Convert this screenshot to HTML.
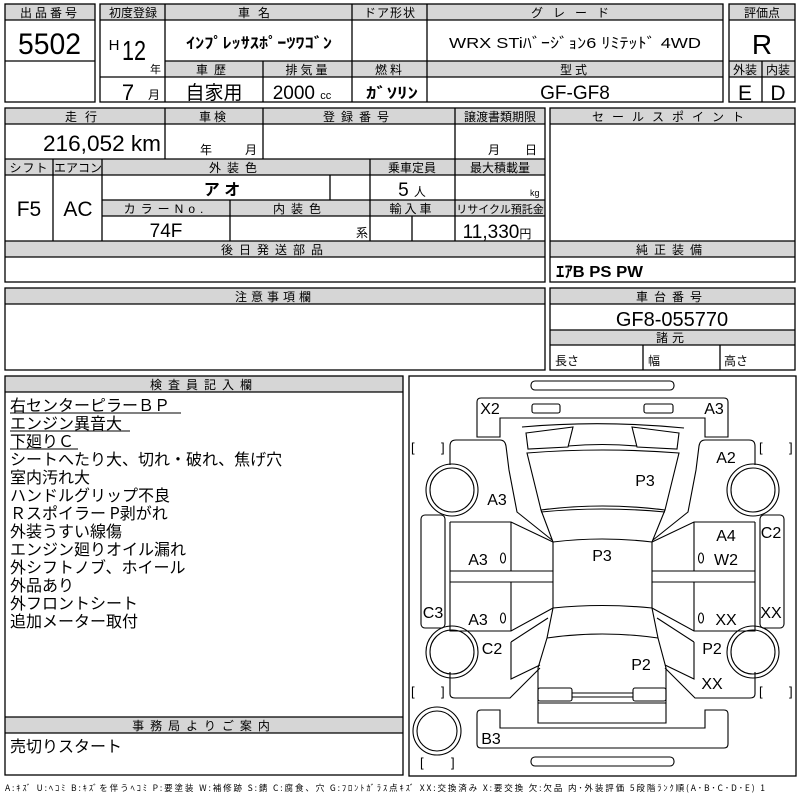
<!DOCTYPE html>
<html><head><meta charset="utf-8"><style>
html,body{margin:0;padding:0;background:#fff;width:800px;height:800px;overflow:hidden}
svg{display:block}
text{font-family:"Liberation Sans","Noto Sans CJK JP",sans-serif;fill:#000}
.h{font-size:12px;text-anchor:middle;letter-spacing:3px}
.v{font-size:19px;text-anchor:middle}
.n{font-family:"Liberation Sans Narrow","Liberation Sans",sans-serif;font-size:17px;text-anchor:middle}
.d{font-family:"Liberation Sans Narrow","Liberation Sans",sans-serif;font-size:16px;text-anchor:middle}
.t{font-size:16px;font-family:"Noto Sans CJK JP",sans-serif}
</style></head><body>
<svg width="800" height="800" viewBox="0 0 800 800">
<g fill="#d6d6d6" stroke="none">
<rect x="5" y="4" width="90" height="16"/>
<rect x="100" y="4" width="623" height="16"/>
<rect x="165" y="61" width="558" height="16"/>
<rect x="729" y="4" width="66" height="16"/>
<rect x="729" y="61" width="66" height="16"/>
<rect x="5" y="108" width="540" height="16"/>
<rect x="5" y="159" width="540" height="16"/>
<rect x="102" y="200" width="443" height="16"/>
<rect x="5" y="241" width="540" height="16"/>
<rect x="550" y="108" width="245" height="16"/>
<rect x="550" y="241" width="245" height="16"/>
<rect x="5" y="288" width="540" height="16"/>
<rect x="550" y="288" width="245" height="16"/>
<rect x="550" y="330" width="245" height="15"/>
<rect x="5" y="376" width="398" height="16"/>
<rect x="5" y="717" width="398" height="16"/>
</g>
<g fill="none" stroke="#000" stroke-width="1.3">
<rect x="5" y="4" width="90" height="98"/>
<line x1="5" y1="20" x2="95" y2="20"/><line x1="5" y1="61" x2="95" y2="61"/>
<rect x="100" y="4" width="623" height="98"/>
<line x1="100" y1="20" x2="723" y2="20"/>
<line x1="165" y1="4" x2="165" y2="102"/><line x1="352" y1="4" x2="352" y2="102"/><line x1="427" y1="4" x2="427" y2="102"/>
<line x1="100" y1="77" x2="723" y2="77"/><line x1="165" y1="61" x2="723" y2="61"/>
<line x1="263" y1="61" x2="263" y2="102"/>
<rect x="729" y="4" width="66" height="98"/>
<line x1="729" y1="20" x2="795" y2="20"/><line x1="729" y1="61" x2="795" y2="61"/><line x1="729" y1="77" x2="795" y2="77"/><line x1="762" y1="61" x2="762" y2="102"/>
<rect x="5" y="108" width="540" height="174"/>
<line x1="5" y1="124" x2="545" y2="124"/><line x1="5" y1="159" x2="545" y2="159"/><line x1="5" y1="175" x2="545" y2="175"/>
<line x1="102" y1="200" x2="545" y2="200"/><line x1="102" y1="216" x2="545" y2="216"/>
<line x1="5" y1="241" x2="545" y2="241"/><line x1="5" y1="257" x2="545" y2="257"/>
<line x1="165" y1="108" x2="165" y2="159"/><line x1="263" y1="108" x2="263" y2="159"/><line x1="455" y1="108" x2="455" y2="241"/>
<line x1="53" y1="159" x2="53" y2="241"/><line x1="102" y1="159" x2="102" y2="241"/><line x1="370" y1="159" x2="370" y2="241"/>
<line x1="330" y1="175" x2="330" y2="200"/><line x1="230" y1="200" x2="230" y2="241"/><line x1="412" y1="216" x2="412" y2="241"/>
<rect x="550" y="108" width="245" height="174"/>
<line x1="550" y1="124" x2="795" y2="124"/><line x1="550" y1="241" x2="795" y2="241"/><line x1="550" y1="257" x2="795" y2="257"/>
<rect x="5" y="288" width="540" height="82"/><line x1="5" y1="304" x2="545" y2="304"/>
<rect x="550" y="288" width="245" height="82"/>
<line x1="550" y1="304" x2="795" y2="304"/><line x1="550" y1="330" x2="795" y2="330"/><line x1="550" y1="345" x2="795" y2="345"/>
<line x1="643" y1="345" x2="643" y2="370"/><line x1="720" y1="345" x2="720" y2="370"/>
<rect x="5" y="376" width="398" height="399"/>
<line x1="5" y1="392" x2="403" y2="392"/><line x1="5" y1="717" x2="403" y2="717"/><line x1="5" y1="733" x2="403" y2="733"/>
<rect x="409" y="376" width="387" height="400"/>
</g>
<!-- headers -->
<text class="h" x="50" y="17">出品番号</text>
<text class="h" x="133" y="17" style="letter-spacing:0">初度登録</text>
<text class="h" x="258" y="17" style="letter-spacing:8px">車名</text>
<text class="h" x="390" y="17" style="letter-spacing:1px">ドア形状</text>
<text class="h" x="575" y="17" style="letter-spacing:10px">グレード</text>
<text class="h" x="762" y="17" style="letter-spacing:0">評価点</text>
<text class="h" x="214" y="74" style="letter-spacing:6px">車歴</text>
<text class="h" x="308" y="74">排気量</text>
<text class="h" x="390" y="74">燃料</text>
<text class="h" x="575" y="74">型式</text>
<text class="h" x="745" y="74" style="letter-spacing:0">外装</text>
<text class="h" x="778" y="74" style="letter-spacing:0">内装</text>
<text class="h" x="85" y="121" style="letter-spacing:8px">走行</text>
<text class="h" x="214" y="121">車検</text>
<text class="h" x="359" y="121" style="letter-spacing:6px">登録番号</text>
<text class="h" x="500" y="121" style="letter-spacing:0">譲渡書類期限</text>
<text class="h" x="29" y="172" style="letter-spacing:1px">シフト</text>
<text class="h" x="78" y="172" style="letter-spacing:0">エアコン</text>
<text class="h" x="236" y="172" style="letter-spacing:6px">外装色</text>
<text class="h" x="412" y="172" style="letter-spacing:0">乗車定員</text>
<text class="h" x="500" y="172" style="letter-spacing:0">最大積載量</text>
<text class="h" x="166" y="213" style="letter-spacing:5px">カラーNo.</text>
<text class="h" x="300" y="213" style="letter-spacing:6px">内装色</text>
<text class="h" x="412" y="213">輸入車</text>
<text class="h" x="500" y="213" style="letter-spacing:0;font-size:11px">リサイクル預託金</text>
<text class="h" x="275" y="254" style="letter-spacing:6px">後日発送部品</text>
<text class="h" x="672" y="121" style="letter-spacing:8px">セールスポイント</text>
<text class="h" x="672" y="254" style="letter-spacing:6px">純正装備</text>
<text class="h" x="275" y="301" style="letter-spacing:4px">注意事項欄</text>
<text class="h" x="672" y="301" style="letter-spacing:6px">車台番号</text>
<text class="h" x="672" y="342" style="letter-spacing:4px">諸元</text>
<text class="h" x="204" y="389" style="letter-spacing:6px">検査員記入欄</text>
<text class="h" x="204" y="730" style="letter-spacing:6px">事務局よりご案内</text>
<!-- values -->
<text x="18" y="54" style="font-size:30px" textLength="63" lengthAdjust="spacingAndGlyphs">5502</text>
<text class="n" x="114" y="50" style="font-size:15px">H</text>
<text x="122" y="60" style="font-size:28px" textLength="24" lengthAdjust="spacingAndGlyphs">12</text>
<text x="150" y="73" style="font-size:11px">年</text>
<text class="n" x="128" y="100" style="font-size:22px">7</text>
<text x="148" y="99" style="font-size:12px">月</text>
<text x="186" y="48" style="font-size:15px;font-weight:bold" textLength="146" lengthAdjust="spacingAndGlyphs">ｲﾝﾌﾟﾚｯｻｽﾎﾟｰﾂﾜｺﾞﾝ</text>
<text x="449" y="48" style="font-size:15px" textLength="252" lengthAdjust="spacingAndGlyphs">WRX STiﾊﾞｰｼﾞｮﾝ6 ﾘﾐﾃｯﾄﾞ 4WD</text>
<text class="v" x="762" y="54" style="font-size:28px">R</text>
<text class="v" x="214" y="99" style="font-size:19px">自家用</text>
<text class="n" x="302" y="99" style="font-size:19px">2000 <tspan style="font-size:11px">cc</tspan></text>
<text x="366" y="98" style="font-size:15px;font-weight:bold" textLength="52" lengthAdjust="spacingAndGlyphs">ｶﾞｿﾘﾝ</text>
<text class="n" x="575" y="99" style="font-size:19px">GF-GF8</text>
<text class="n" x="745" y="100" style="font-size:21px">E</text>
<text class="n" x="778" y="100" style="font-size:21px">D</text>
<text x="43" y="151" style="font-size:22px" textLength="118" lengthAdjust="spacingAndGlyphs">216,052 km</text>
<text x="200" y="154" style="font-size:12px">年</text><text x="245" y="154" style="font-size:12px">月</text>
<text x="488" y="154" style="font-size:12px">月</text><text x="525" y="154" style="font-size:12px">日</text>
<text class="v" x="222" y="195" style="font-size:16px;font-weight:bold">ア オ</text>
<text class="n" x="412" y="196" style="font-size:19px">5 <tspan style="font-size:12px">人</tspan></text>
<text x="530" y="196" style="font-size:9px">kg</text>
<text class="n" x="29" y="216" style="font-size:21px">F5</text>
<text class="n" x="78" y="216" style="font-size:21px">AC</text>
<text class="n" x="166" y="237" style="font-size:19px">74F</text>
<text x="356" y="237" style="font-size:12px">系</text>
<text class="n" x="497" y="238" style="font-size:19px">11,330<tspan style="font-size:12px">円</tspan></text>
<text x="556" y="277" style="font-size:16px;font-weight:bold" textLength="87" lengthAdjust="spacingAndGlyphs">ｴｱB PS PW</text>
<text class="n" x="672" y="326" style="font-size:20px">GF8-055770</text>
<text x="555" y="365" style="font-size:12px">長さ</text>
<text x="648" y="365" style="font-size:12px">幅</text>
<text x="724" y="365" style="font-size:12px">高さ</text>
<g class="t">
<text class="t" x="10" y="411">右センターピラーＢＰ</text>
<text class="t" x="10" y="429">エンジン異音大</text>
<text class="t" x="10" y="447">下廻りＣ</text>
<text class="t" x="10" y="465">シートへたり大、切れ・破れ、焦げ穴</text>
<text class="t" x="10" y="483">室内汚れ大</text>
<text class="t" x="10" y="501">ハンドルグリップ不良</text>
<text class="t" x="10" y="519">Ｒスポイラー P剥がれ</text>
<text class="t" x="10" y="537">外装うすい線傷</text>
<text class="t" x="10" y="555">エンジン廻りオイル漏れ</text>
<text class="t" x="10" y="573">外シフトノブ、ホイール</text>
<text class="t" x="10" y="591">外品あり</text>
<text class="t" x="10" y="609">外フロントシート</text>
<text class="t" x="10" y="627">追加メーター取付</text>
<text class="t" x="10" y="752">売切りスタート</text>
</g>
<line x1="10" y1="413" x2="181" y2="413" stroke="#000"/>
<line x1="10" y1="431" x2="130" y2="431" stroke="#000"/>
<line x1="10" y1="449" x2="78" y2="449" stroke="#000"/>
<text x="5" y="791" style="font-size:8.5px;font-family:'Noto Sans CJK JP',sans-serif" textLength="760">A:ｷｽﾞ U:ﾍｺﾐ B:ｷｽﾞを伴うﾍｺﾐ P:要塗装 W:補修跡 S:錆 C:腐食、穴 G:ﾌﾛﾝﾄｶﾞﾗｽ点ｷｽﾞ XX:交換済み X:要交換 欠:欠品 内･外装評価 5段階ﾗﾝｸ順(A･B･C･D･E) 1</text>
<!-- car diagram -->
<g fill="none" stroke="#000" stroke-width="1.1">
<rect x="531" y="381" width="143" height="9" rx="4"/>
<rect x="531" y="757" width="143" height="9" rx="4"/>
<path d="M477,437 L477,402 Q477,398 481,398 L724,398 Q728,398 728,402 L728,437 L705,437 L705,418 L500,418 L500,437 Z"/>
<rect x="532" y="404" width="28" height="9" rx="2"/><rect x="644" y="404" width="29" height="9" rx="2"/>
<path d="M477,714 Q477,710 481,710 L500,710 L500,728 L705,728 L705,710 L724,710 Q728,710 728,714 L728,744 Q728,748 724,748 L481,748 Q477,748 477,744 Z"/>
<circle cx="452" cy="490" r="26"/><circle cx="452" cy="490" r="22"/>
<circle cx="753" cy="490" r="26"/><circle cx="753" cy="490" r="22"/>
<circle cx="452" cy="652" r="26"/><circle cx="452" cy="652" r="22"/>
<circle cx="753" cy="652" r="26"/><circle cx="753" cy="652" r="22"/>
<circle cx="437" cy="731" r="24"/><circle cx="437" cy="731" r="20"/>
<rect x="421" y="515" width="24" height="113" rx="4"/>
<rect x="760" y="515" width="24" height="113" rx="4"/>
<path d="M450,465 L450,446 Q450,440 456,440 L500,440 Q505,440 506,446 L509,470 L517,512 L552,540"/>
<path d="M755,465 L755,446 Q755,440 749,440 L705,440 Q700,440 699,446 L696,470 L688,512 L653,540"/>
<path d="M450,522 L511,522 L553,542 M450,522 L450,631 L511,631 L553,608 M450,571 L553,571 M450,582 L553,582 M511,522 L511,571 M511,582 L511,631"/>
<path d="M755,522 L694,522 L652,542 M755,522 L755,631 L694,631 L652,608 M755,571 L652,571 M755,582 L652,582 M694,522 L694,571 M694,582 L694,631"/>
<path d="M511,642 L548,618 M511,642 L511,679 L540,665"/>
<path d="M694,642 L657,618 M694,642 L694,679 L665,665"/>
<path d="M450,672 L450,694 Q450,698 455,698 L510,698 L540,668"/>
<path d="M755,672 L755,694 Q755,698 750,698 L695,698 L665,668"/>
<path d="M522,427 Q602,420 684,428"/>
<path d="M526,433 L573,427 L568,447 L528,449 Z M679,433 L632,427 L637,447 L677,449 Z"/>
<path d="M568,446 Q602,443 637,446"/>
<path d="M527,453 Q602,447 679,453 L665,510 Q602,502 541,510 Z"/>
<path d="M541,512 Q602,506 665,512"/>
<path d="M541,510 L553,542 Q602,536 652,542 L665,510"/>
<path d="M553,542 L553,608 Q602,603 652,608 L652,542"/>
<path d="M553,608 L547,638 L538,668 L538,723 L666,723 L666,668 L658,638 L652,608"/>
<path d="M547,638 Q602,630 658,638"/>
<rect x="538" y="688" width="34" height="13" rx="2"/><rect x="633" y="688" width="33" height="13" rx="2"/>
<path d="M572,693 L633,693 M572,697 L633,697"/>
<line x1="538" y1="703" x2="666" y2="703"/>
<ellipse cx="503" cy="558" rx="2.5" ry="5"/><ellipse cx="503" cy="618" rx="2.5" ry="5"/>
<ellipse cx="701" cy="558" rx="2.5" ry="5"/><ellipse cx="701" cy="618" rx="2.5" ry="5"/>
</g>
<g style="font-size:13px;font-family:'Liberation Mono',monospace">
<text x="411" y="452">[</text><text x="441" y="452">]</text>
<text x="759" y="452">[</text><text x="789" y="452">]</text>
<text x="411" y="696">[</text><text x="441" y="696">]</text>
<text x="759" y="696">[</text><text x="789" y="696">]</text>
<text x="420" y="767">[</text><text x="451" y="767">]</text>
</g>
<g class="d">
<text x="490" y="414">X2</text><text x="714" y="414">A3</text>
<text x="726" y="463">A2</text><text x="645" y="486">P3</text>
<text x="497" y="505">A3</text><text x="602" y="561">P3</text>
<text x="478" y="565">A3</text><text x="726" y="541">A4</text>
<text x="771" y="538">C2</text><text x="726" y="565">W2</text>
<text x="433" y="618">C3</text><text x="478" y="625">A3</text>
<text x="726" y="625">XX</text><text x="771" y="618">XX</text>
<text x="492" y="654">C2</text><text x="712" y="654">P2</text>
<text x="641" y="670">P2</text><text x="712" y="689">XX</text>
<text x="491" y="744">B3</text>
</g>
</svg>
</body></html>
